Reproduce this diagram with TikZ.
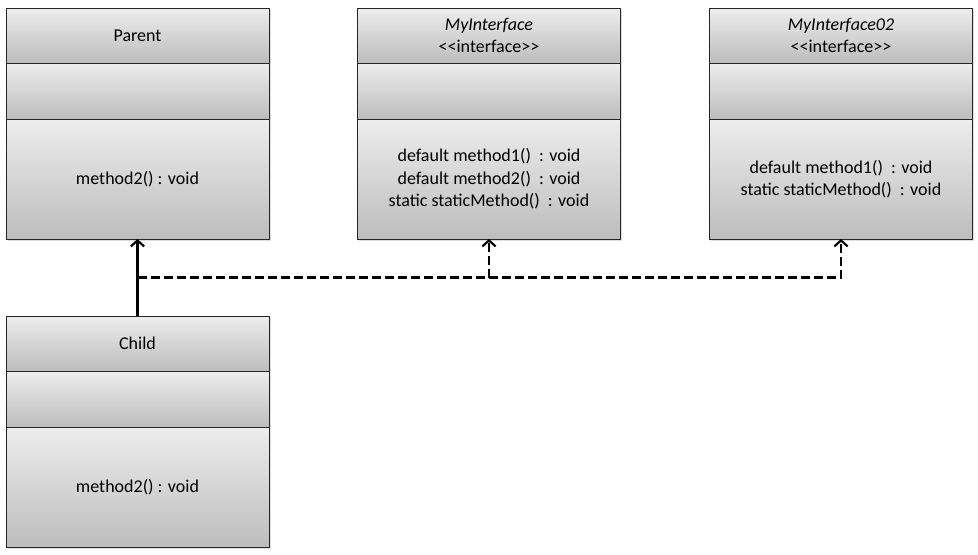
\documentclass[tikz,border=0pt]{standalone}
\usepackage{fontspec}
\setmainfont{Carlito}[Ligatures=TeXOff]
\usetikzlibrary{positioning,arrows.meta,shadows,calc}

\tikzset{
	part/.style={draw=black!85, line width=0.75pt, outer sep=0pt, inner sep=0pt,
		top color=black!7, bottom color=black!26, minimum width=197.25pt,
		align=center, font=\fontsize{13.5}{16.9}\selectfont,
		drop shadow={shadow xshift=1.2pt, shadow yshift=-1.2pt, opacity=0.25}},
	head/.style={part, minimum height=41.25pt},
	attr/.style={part, minimum height=42pt},
	meth/.style={part, minimum height=90pt},
	inherit/.style={line width=2.2pt, -{Straight Barb[length=4.5pt, width=10pt, line width=1.6pt]}},
	realize/.style={inherit, dash pattern=on 6.75pt off 3pt},
}
\newcommand{\stereo}{<{}<interface>{}>}

\begin{document}
\begin{tikzpicture}[x=0.75pt, y=-0.75pt]
		\useasboundingbox (0,0) rectangle (978,554);
		% Classes
		\node[head] (Par) at (137.5,35.5) {Parent};
		\node[attr, below=0pt of Par] (Par-a) {};
		\node[meth, below=0pt of Par-a] (Par-m) {method2() : void};
		\node[head] (Chi) at (137.5,343.5) {Child};
		\node[attr, below=0pt of Chi] (Chi-a) {};
		\node[meth, below=0pt of Chi-a] (Chi-m) {method2() : void};
		% Interfaces
		\node[head] (Ifa) at (489,35.5) {\textit{MyInterface}\\ \stereo};
		\node[attr, below=0pt of Ifa] (Ifa-a) {};
		\node[meth, below=0pt of Ifa-a] (Ifa-m) {default method1()~ : void\\ default method2()~ : void\\ static staticMethod()~ : void};
		\node[head] (Ifb) at (841,35.5) {\textit{MyInterface02}\\ \stereo};
		\node[attr, below=0pt of Ifb] (Ifb-a) {};
		\node[meth, below=0pt of Ifb-a] (Ifb-m) {default method1()~ : void\\ static staticMethod()~ : void};
		% Connections
		\coordinate (fork) at ($(Par-m.south)!0.5!(Chi.north)$);
		\coordinate (fork2) at (fork -| Ifa-m.south);
		%% Inheritance
		\draw [inherit] (Chi.north) to (Par-m.south);
		%% Realization
		\draw [realize] (fork) -| (Ifb-m.south);
		\draw [realize] (fork2) to (Ifa-m.south);
	\end{tikzpicture}
\end{document}
